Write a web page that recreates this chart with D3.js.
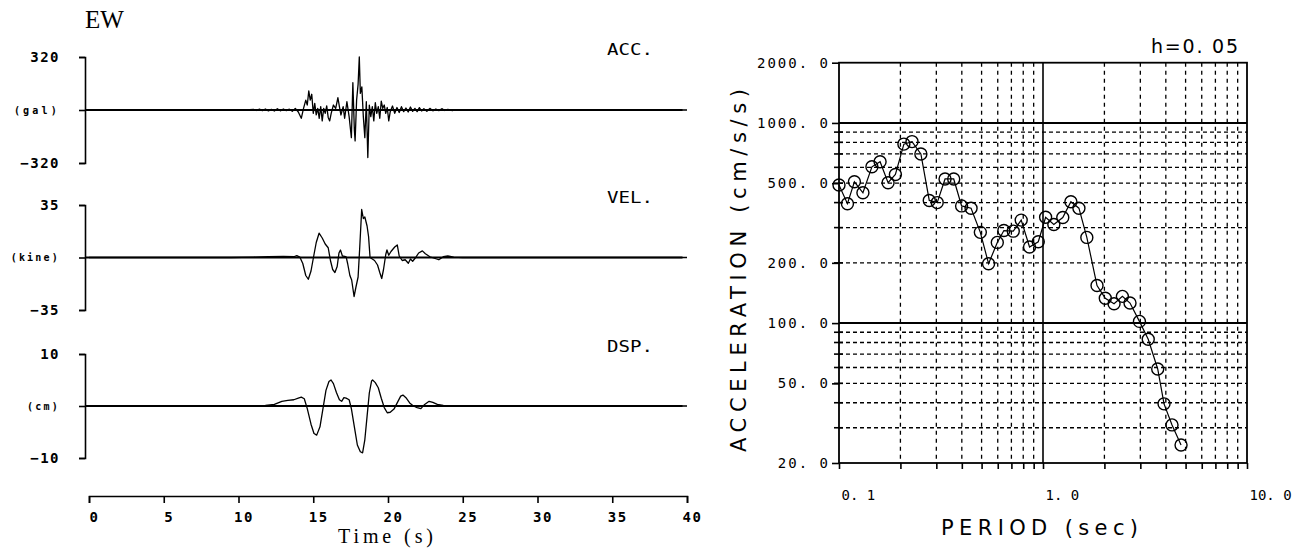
<!DOCTYPE html>
<html><head><meta charset="utf-8">
<script src="https://cdn.jsdelivr.net/npm/d3@7"></script>
<style>body{margin:0;background:#fff}svg{display:block}</style>
</head><body><svg id="c" width="1297" height="548"></svg>
<script>
// ---------------- DATA ----------------
const accTime  = [0,10.5,11.0,11.2,11.4,11.6,11.8,12.0,12.2,12.4,12.6,12.8,13.0,13.2,13.4,13.6,13.8,14.0,14.2,14.35,14.5,14.6,14.7,14.8,14.9,15.0,15.1,15.2,15.3,15.4,15.5,15.6,15.7,15.8,15.9,16.0,16.1,16.2,16.35,16.5,16.65,16.75,16.85,17.0,17.1,17.25,17.4,17.55,17.65,17.75,17.8,17.9,18.0,18.08,18.15,18.25,18.35,18.45,18.55,18.65,18.75,18.85,18.95,19.05,19.15,19.25,19.35,19.45,19.55,19.65,19.75,19.85,19.95,20.05,20.15,20.3,20.45,20.6,20.75,20.9,21.05,21.2,21.35,21.5,21.65,21.8,21.95,22.1,22.25,22.4,22.6,22.8,23.0,23.2,23.4,23.6,23.8,24.0,24.3,24.6,25.0,40];
const accValue = [0,0,4,-3,5,-4,6,-5,4,-6,8,-5,6,-4,5,-8,10,-12,-50,10,60,30,115,60,95,-20,40,-30,10,-50,20,-66,10,-20,25,-45,-66,-20,30,10,74,20,-30,20,-50,50,-40,-167,165,-120,-187,60,155,320,100,140,-40,-167,50,-287,30,-40,20,-66,44,-20,20,-50,54,10,30,-20,15,-66,-10,24,-20,15,-15,20,-10,12,-12,18,-8,10,-10,14,-6,8,-8,10,-5,6,-4,8,-3,4,-3,2,0,0];

const velTime  = [0,9.5,11.0,12.0,13.0,13.7,13.9,14.1,14.3,14.5,14.67,14.85,15.05,15.2,15.39,15.6,15.8,16.0,16.15,16.3,16.45,16.6,16.72,16.82,16.95,17.1,17.2,17.3,17.45,17.57,17.73,17.85,18.0,18.1,18.24,18.35,18.45,18.6,18.7,18.8,18.95,19.1,19.3,19.45,19.58,19.7,19.85,19.93,20.05,20.2,20.45,20.62,20.75,20.95,21.15,21.36,21.5,21.65,21.85,22.05,22.3,22.5,22.8,23.1,23.4,23.7,24.0,24.4,25.0,40];
const velValue = [0,0,0.3,0.6,0.8,0.5,1.2,0.3,-4,-12,-14.5,-9,2,10,16.2,13,9,6.5,-2,-8,-10,-6,3,5,1,0.8,0.4,-4,-12,-15,-26,-20,-13,5,32,26,27,21,14,0,-1,-2,-5,-10,-14,-8,2,5,1.5,4,7,8.4,1,-2,-1.5,-3.8,-1,-2.5,0,3,4.4,2.5,0.5,-0.5,-1.5,0.5,1.0,0.2,0,0];

const dspTime  = [0,11.0,11.8,12.4,12.9,13.3,13.7,14.0,14.2,14.4,14.6,14.85,15.05,15.23,15.45,15.65,15.85,16.05,16.19,16.35,16.55,16.75,16.9,17.05,17.2,17.4,17.55,17.75,17.95,18.15,18.3,18.45,18.6,18.75,18.9,18.97,19.15,19.35,19.55,19.75,19.95,20.15,20.4,20.65,20.85,21.0,21.2,21.45,21.7,21.95,22.2,22.45,22.75,23.0,23.3,23.7,24.2,40];
const dspValue = [0,0,0.1,0.3,0.9,1.1,1.2,1.5,1.7,1.4,-0.5,-3.5,-5.3,-5.6,-4,-0.5,3,4.7,5.0,4.3,2.6,1.2,0.9,1.6,1.5,1.2,-0.5,-4,-7.5,-8.8,-9.0,-6.5,-2,2.5,4.8,5.0,4.5,3.5,1.5,-0.3,-1.3,-1.2,-0.6,0.8,1.9,2.1,1.6,0.6,0,-0.3,-0.5,0.3,0.9,0.7,0.3,0.1,0,0];

const timeTicks = [0,5,10,15,20,25,30,35,40];

const specPeriod = [0.100,0.110,0.119,0.131,0.145,0.159,0.174,0.189,0.208,0.228,0.252,0.277,0.303,0.331,0.365,0.399,0.444,0.493,0.541,0.597,0.643,0.715,0.782,0.859,0.948,1.03,1.13,1.25,1.37,1.50,1.64,1.84,2.02,2.23,2.45,2.67,2.97,3.28,3.65,3.92,4.29,4.75];
const specAcc    = [490,395,508,448,604,640,503,553,784,807,700,410,400,525,525,385,375,284,198,253,290,288,327,240,255,338,311,337,404,375,268,154,133,125,136,126,102,83,59,39.5,31,24.6];

const yMajorValues = [2000,1000,500,200,100,50,20];
const yMajorLabels = ["2000. 0","1000. 0","500. 0","200. 0","100. 0","50. 0","20. 0"];
const yGridValues  = [30,40,50,60,70,80,90,200,300,400,500,600,700,800,900];
const ySolidValues = [100,1000];
const xGridValues  = [0.2,0.3,0.4,0.5,0.6,0.7,0.8,0.9,2,3,4,5,6,7,8,9];
const xSolidValues = [1];
const xMajorValues = [0.1,1,10];
const xMajorLabels = ["0. 1","1. 0","10. 0"];

// ---------------- DRAW ----------------
const svg = d3.select("#c");
const MONO = "'DejaVu Sans Mono', monospace";

svg.append("text").attr("x",85).attr("y",28).attr("font-family","'Liberation Serif', serif")
  .attr("font-size",25).text("EW");

const xt = d3.scaleLinear().domain([0,40]).range([89,687]);

const panels = [
  {name:"ACC.", unit:"(gal)", max:320, top:57, bot:163, labelY:49, t:accTime, v:accValue, uls:3.2},
  {name:"VEL.", unit:"(kine)", max:35, top:205, bot:310, labelY:197, t:velTime, v:velValue, uls:2.2},
  {name:"DSP.", unit:"(cm)", max:10, top:354, bot:458, labelY:346, t:dspTime, v:dspValue, uls:2.2}
];

panels.forEach(p => {
  const y = d3.scaleLinear().domain([-p.max,p.max]).range([p.bot,p.top]);
  const g = svg.append("g").attr("transform","translate(85,0)")
    .call(d3.axisLeft(y).tickValues([-p.max,0,p.max]).tickSize(6).tickSizeOuter(6).tickPadding(19)
      .tickFormat(d => d===0 ? p.unit : d3.format("d")(d)));
  g.selectAll("path,line").attr("stroke","#000").attr("stroke-width",1.6);
  g.selectAll("text").attr("font-family",MONO).attr("fill","#000")
    .attr("font-size",d => d===0 ? 10 : 14)
    .attr("font-weight","bold")
    .attr("letter-spacing",d => d===0 ? p.uls : 1.5);
  // baseline
  svg.append("line").attr("x1",85).attr("x2",xt(39.7)).attr("y1",y(0)).attr("y2",y(0))
    .attr("stroke","#000").attr("stroke-width",2);
  const pts = p.t.map((t,i)=>[t,p.v[i]]);
  svg.append("path").datum(pts)
    .attr("d",d3.line().x(d=>xt(d[0])).y(d=>y(d[1])))
    .attr("fill","none").attr("stroke","#000").attr("stroke-width",1.3).attr("stroke-linejoin","round");
  svg.append("text").attr("x",607).attr("y",p.labelY).attr("dy","0.35em")
    .attr("font-family",MONO).attr("font-size",16)
    .attr("textLength",46).attr("lengthAdjust","spacingAndGlyphs").text(p.name);
});

// time axis
const ta = svg.append("g").attr("transform","translate(0,496)")
  .call(d3.axisBottom(xt).tickValues(timeTicks).tickSize(7).tickSizeOuter(7));
ta.selectAll("path,line").attr("stroke","#000").attr("stroke-width",1.6);
ta.selectAll("text").attr("font-family",MONO).attr("font-size",14).attr("font-weight","bold")
  .attr("letter-spacing",1.5).attr("y",21).attr("dy","0.35em").attr("dx",5).attr("fill","#000");
svg.append("text").attr("x",338).attr("y",543).attr("font-family","'Liberation Serif', serif")
  .attr("font-size",20).attr("textLength",95).attr("lengthAdjust","spacing").text("Time (s)");

// ---------------- SPECTRUM ----------------
const xs = d3.scaleLog().domain([0.1,10]).range([839,1247]);
const ys = d3.scaleLog().domain([20,2000]).range([463,62.7]);
const L = xs.range()[0], R = xs.range()[1], T = ys.range()[1], B = ys.range()[0];

const grid = svg.append("g");
grid.selectAll(".hg").data(yGridValues).join("line")
  .attr("x1",L).attr("x2",R).attr("y1",d=>ys(d)).attr("y2",d=>ys(d))
  .attr("stroke","#000").attr("stroke-width",1.3).attr("stroke-dasharray","4,3");
grid.selectAll(".vg").data(xGridValues).join("line")
  .attr("class","vg").attr("y1",T).attr("y2",B).attr("x1",d=>xs(d)).attr("x2",d=>xs(d))
  .attr("stroke","#000").attr("stroke-width",1.3).attr("stroke-dasharray","4,4");
grid.selectAll(".hs").data(ySolidValues).join("line")
  .attr("class","hs").attr("x1",L).attr("x2",R).attr("y1",d=>ys(d)).attr("y2",d=>ys(d))
  .attr("stroke","#000").attr("stroke-width",2);
grid.selectAll(".vs").data(xSolidValues).join("line")
  .attr("class","vs").attr("y1",T).attr("y2",B).attr("x1",d=>xs(d)).attr("x2",d=>xs(d))
  .attr("stroke","#000").attr("stroke-width",1.6);

svg.append("rect").attr("x",L).attr("y",T).attr("width",R-L).attr("height",B-T)
  .attr("fill","none").attr("stroke","#000").attr("stroke-width",1.8);

// left axis
const la = svg.append("g").attr("transform",`translate(${L},0)`)
  .call(d3.axisLeft(ys).tickValues(yMajorValues).tickSize(7).tickSizeOuter(0).tickPadding(2)
    .tickFormat((d,i)=>yMajorLabels[i]));
la.select(".domain").remove();
la.selectAll("line").attr("stroke","#000").attr("stroke-width",1.6);
la.selectAll("text").attr("font-family",MONO).attr("font-size",14).attr("fill","#000").attr("letter-spacing",2);
svg.append("g").selectAll("line").data(yGridValues).join("line")
  .attr("x1",L-5).attr("x2",L+4).attr("y1",d=>ys(d)).attr("y2",d=>ys(d))
  .attr("stroke","#000").attr("stroke-width",1.6);

// bottom axis
const ba = svg.append("g").attr("transform",`translate(0,${B})`)
  .call(d3.axisBottom(xs).tickValues(xMajorValues.concat(xGridValues)).tickSize(6).tickSizeOuter(0)
    .tickFormat(d => { const i = xMajorValues.indexOf(d); return i>=0 ? xMajorLabels[i] : ""; }));
ba.select(".domain").remove();
ba.selectAll("line").attr("stroke","#000").attr("stroke-width",1.6);
ba.selectAll("text").attr("font-family",MONO).attr("font-size",14).attr("fill","#000")
  .attr("text-anchor","start").attr("x",2).attr("y",32).attr("dy","0.35em");

// spectrum line + circles
const sp = specPeriod.map((p,i)=>[p,specAcc[i]]);
svg.append("path").datum(sp).attr("d",d3.line().x(d=>xs(d[0])).y(d=>ys(d[1])))
  .attr("fill","none").attr("stroke","#000").attr("stroke-width",1.2);
svg.append("g").selectAll("circle").data(sp).join("circle")
  .attr("cx",d=>xs(d[0])).attr("cy",d=>ys(d[1])).attr("r",6)
  .attr("fill","none").attr("stroke","#000").attr("stroke-width",1.4);

// titles
svg.append("text").attr("x",1151).attr("y",53).attr("font-family","'DejaVu Sans', sans-serif")
  .attr("font-size",19).attr("textLength",87).attr("lengthAdjust","spacing").text("h=0. 05");
svg.append("text").attr("x",941).attr("y",535).attr("font-family","'DejaVu Sans', sans-serif")
  .attr("font-size",21).attr("textLength",197).attr("lengthAdjust","spacing").text("PERIOD (sec)");
svg.append("text").attr("transform","translate(746,452) rotate(-90)")
  .attr("font-family","'DejaVu Sans', sans-serif").attr("font-size",21)
  .attr("textLength",363).attr("lengthAdjust","spacing").text("ACCELERATION (cm/s/s)");
</script></body></html>
